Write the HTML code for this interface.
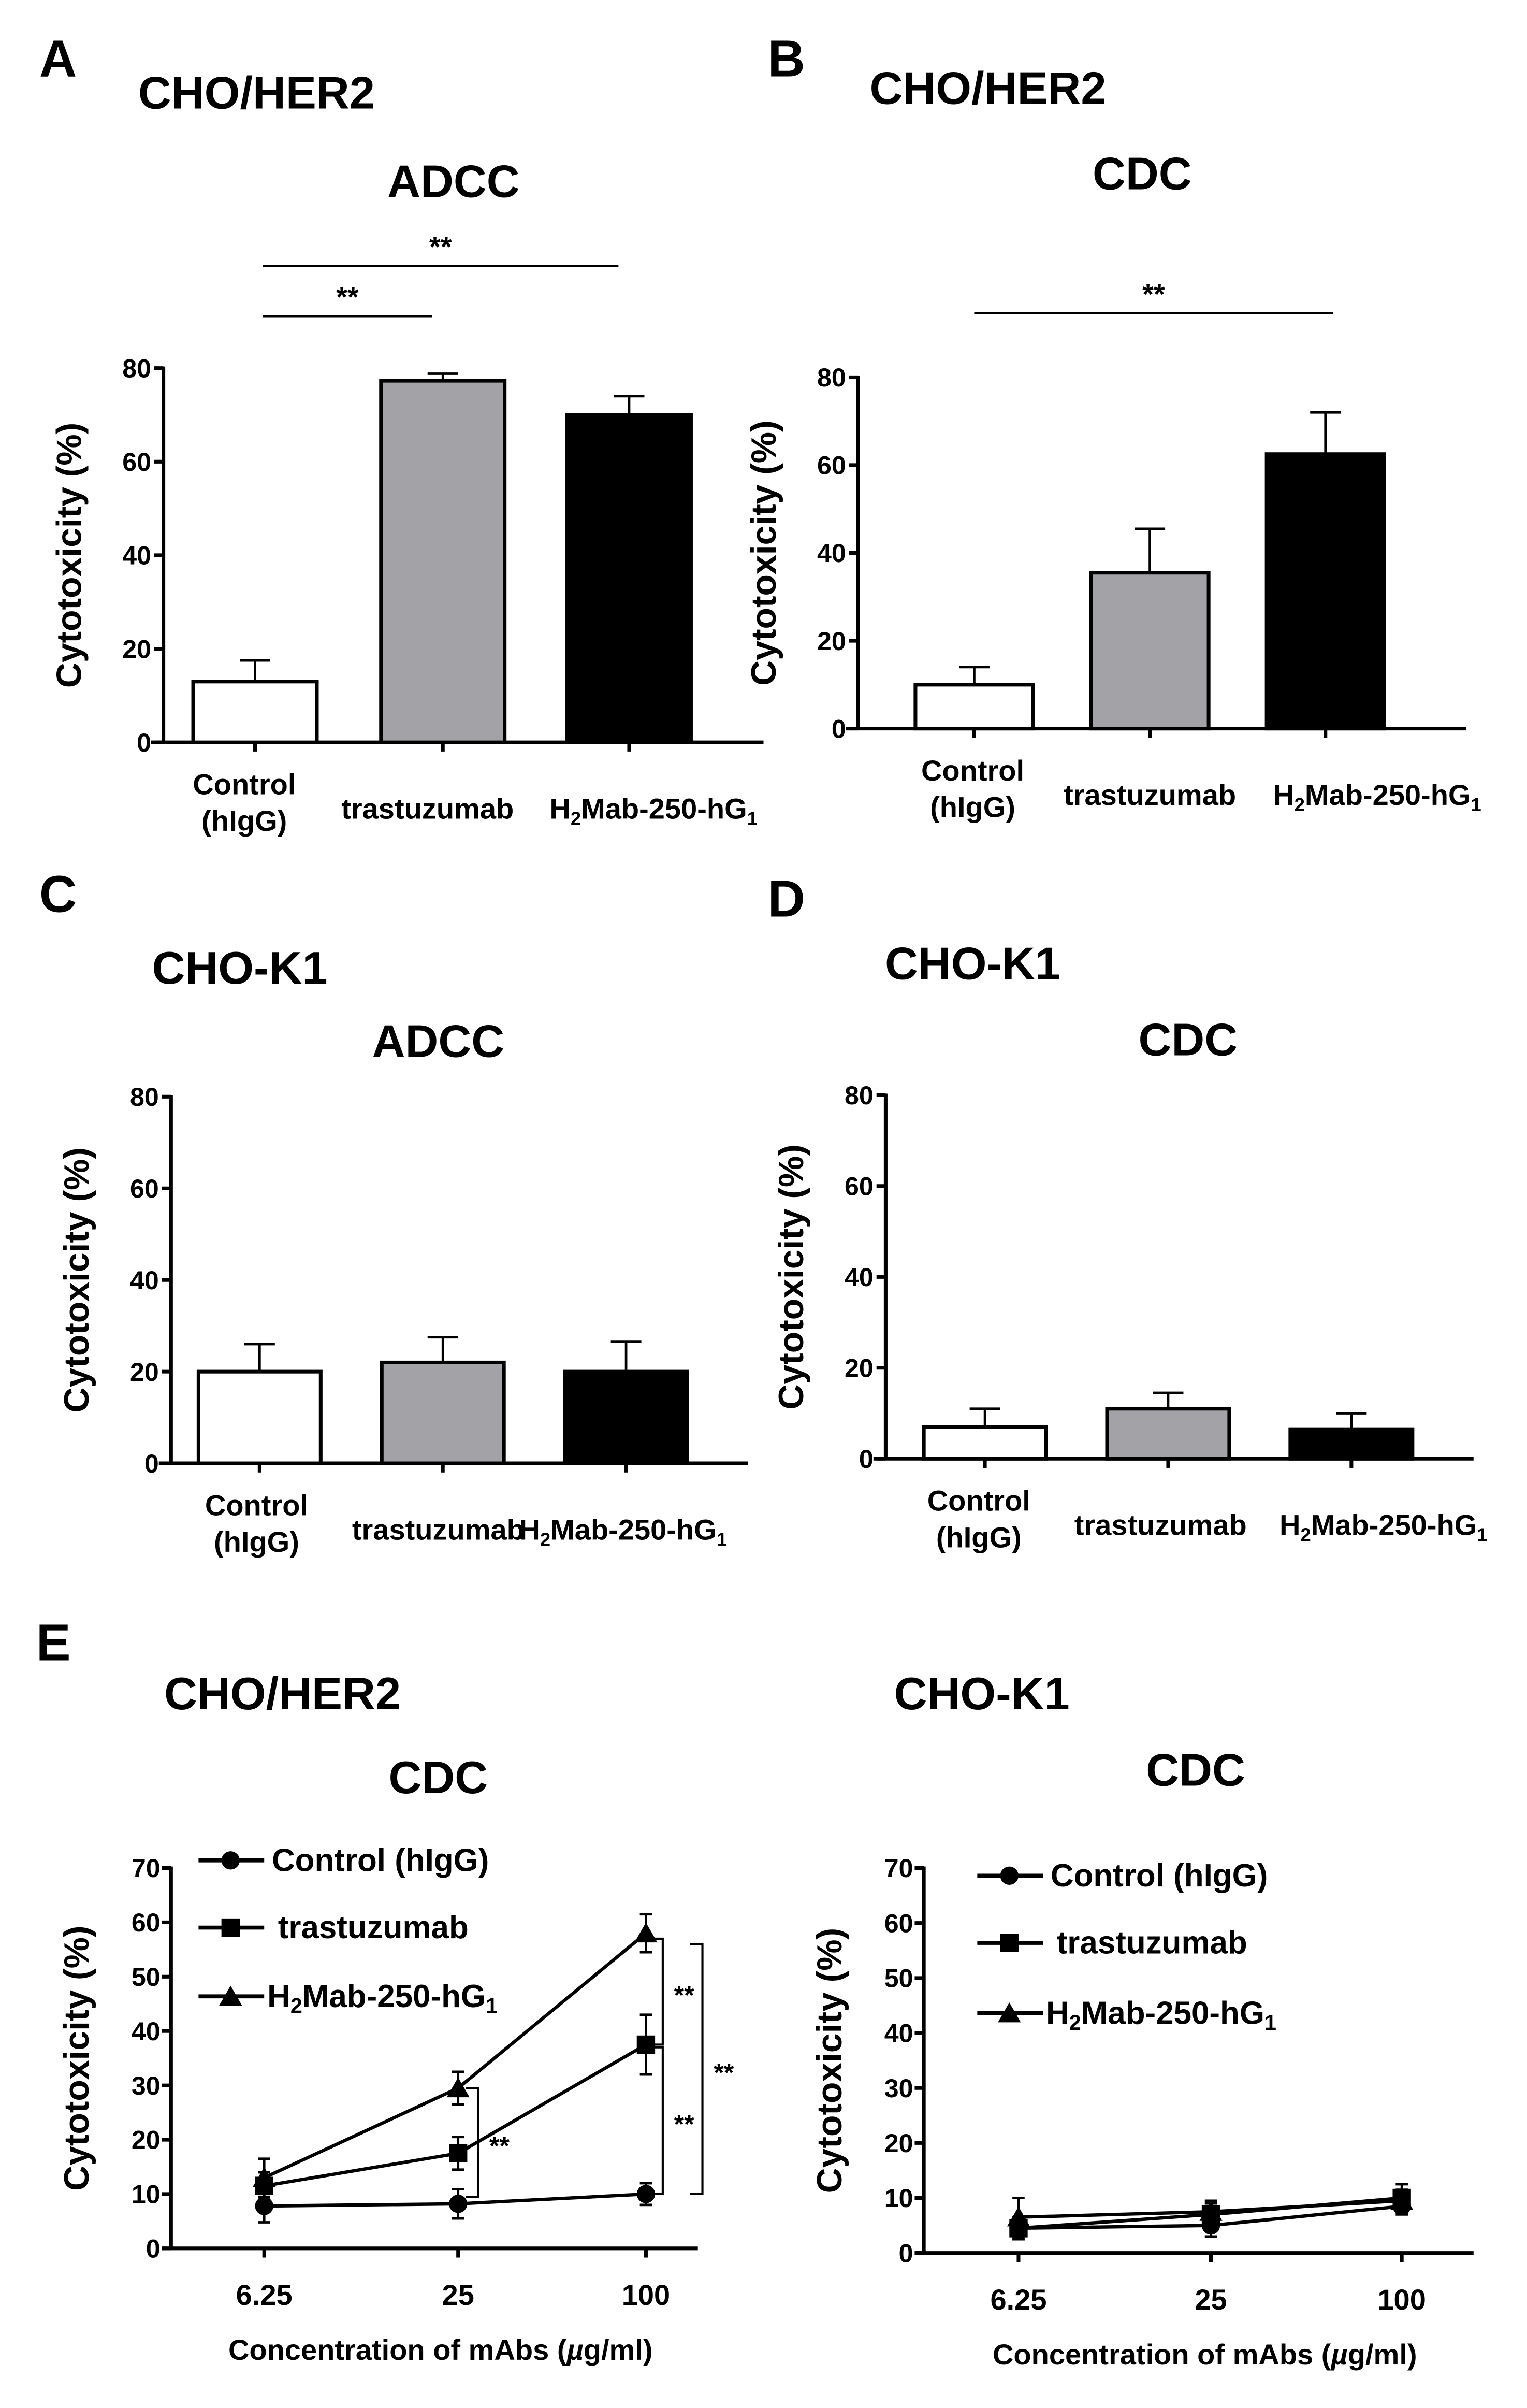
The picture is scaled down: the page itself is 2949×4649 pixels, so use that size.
<!DOCTYPE html>
<html><head><meta charset="utf-8"><style>
html,body{margin:0;padding:0;background:#fff}
svg{display:block}
text{font-family:"Liberation Sans",sans-serif;font-weight:bold;fill:#000}
</style></head><body>
<svg id="fig" width="2949" height="4649" viewBox="0 0 1000 1576.5" xmlns="http://www.w3.org/2000/svg"></svg>
<script>
// ---- data ----
const barCategories = ["Control", "trastuzumab", "H2Mab-250-hG1"];
const barFills = ["#fff", "#a3a2a7", "#000"];
const aValues = [13, 77.3, 70];
const aErrors = [4.5, 1.5, 4];
const bValues = [10, 35.5, 62.5];
const bErrors = [4, 10, 9.5];
const cValues = [20, 22, 20];
const cErrors = [6, 5.5, 6.5];
const dValues = [7, 11, 6.5];
const dErrors = [4, 3.5, 3.5];
const barTicks = [0, 20, 40, 60, 80];
const concLabels = ["6.25", "25", "100"];
const lineTicks = [0, 10, 20, 30, 40, 50, 60, 70];
const eCtrl = [7.8, 8.2, 10];
const eCtrlErr = [3, 2.7, 2];
const eTras = [11.5, 17.5, 37.5];
const eTrasErr = [2.5, 3, 5.5];
const eH2 = [13, 29.5, 58];
const eH2Err = [3.5, 3, 3.5];
const fCtrl = [4.5, 5, 8.5];
const fCtrlErr = [2, 2, 1.5];
const fTras = [4.5, 7, 10];
const fTrasErr = [2, 2, 2.5];
const fH2 = [6.5, 7.5, 9.5];
const fH2Err = [3.5, 2, 2];

const svg = document.getElementById('fig');
const NS = 'http://www.w3.org/2000/svg';
function el(tag, attrs, parent) {
  const e = document.createElementNS(NS, tag);
  for (const k in attrs) e.setAttribute(k, attrs[k]);
  (parent || svg).appendChild(e);
  return e;
}
function txt(x, y, s, size, anchor, name, parent) {
  const t = el('text', {x: x, y: y, 'font-size': size, 'text-anchor': anchor || 'middle'}, parent);
  t.textContent = s;
  
  
  return t;
}
function h2label(x, y, size, name, parent) {
  const t = el('text', {x: x, y: y, 'font-size': size, 'text-anchor': 'middle'}, parent);
  
  
  t.innerHTML = 'H<tspan font-size="' + size * 0.65 + '" dy="4">2</tspan><tspan dy="-4">Mab-250-hG</tspan><tspan font-size="' + size * 0.65 + '" dy="4">1</tspan>';
  return t;
}
const LW = 2.4;
const TICK = 17, CAT = 19, YT = 23;

function barPanel(cfg) {
  const g = el('g', {});
  
  
  const ymax = 80;
  const ys = v => cfg.y0 - (cfg.y0 - cfg.yTop) * v / ymax;
  const ax = el('line', {x1: cfg.x0, y1: cfg.yTop - 1, x2: cfg.x0, y2: cfg.y0, stroke: '#000', 'stroke-width': LW}, g);
   
  const xa = el('line', {x1: cfg.x0 - 8, y1: cfg.y0, x2: cfg.xEnd, y2: cfg.y0, stroke: '#000', 'stroke-width': LW}, g);
   
  barTicks.forEach(v => {
    el('line', {x1: cfg.x0 - 6, y1: ys(v), x2: cfg.x0, y2: ys(v), stroke: '#000', 'stroke-width': LW}, g);
    txt(cfg.x0 - 8, ys(v) + 6, String(v), TICK, 'end', 'y-tick-label', g);
  });
  const yl = txt(0, 0, 'Cytotoxicity (%)', YT, 'middle', 'y-axis-title', g);
  yl.setAttribute('transform', 'translate(' + (cfg.x0 - 54) + ',' + ((cfg.y0 + cfg.yTop) / 2) + ') rotate(-90)');
  cfg.values.forEach((v, i) => {
    const cx = cfg.centers[i], w = cfg.bw;
    const r = el('rect', {x: cx - w / 2, y: ys(v), width: w, height: cfg.y0 - ys(v), fill: barFills[i], stroke: '#000', 'stroke-width': LW}, g);
    
    
    const e = cfg.errors[i];
    el('line', {x1: cx, y1: ys(v), x2: cx, y2: ys(v + e), stroke: '#000', 'stroke-width': 1.6}, g);
    el('line', {x1: cx - 10, y1: ys(v + e), x2: cx + 10, y2: ys(v + e), stroke: '#000', 'stroke-width': 1.6}, g);
    el('line', {x1: cx, y1: cfg.y0, x2: cx, y2: cfg.y0 + 6, stroke: '#000', 'stroke-width': LW}, g);
  });
  const lx = cfg.labelX;
  txt(lx[0], cfg.y0 + 34, 'Control', CAT, 'middle', 'x-label-control', g);
  txt(lx[0], cfg.y0 + 58, '(hIgG)', CAT, 'middle', 'x-label-control', g);
  txt(lx[1], cfg.y0 + 50, 'trastuzumab', CAT, 'middle', 'x-label-trastuzumab', g);
  h2label(lx[2], cfg.y0 + 50, CAT, 'x-label-h2mab', g);
  (cfg.sig || []).forEach(s => {
    el('line', {x1: s[0], y1: s[2], x2: s[1], y2: s[2], stroke: '#000', 'stroke-width': 1.4}, g);
    txt((s[0] + s[1]) / 2, s[2] - 6, '**', 19, 'middle', 'significance-mark', g);
  });
  return g;
}

// headers
txt(38, 50, 'A', 34, 'middle', 'panel-label-a');
txt(168, 71, 'CHO/HER2', 30, 'middle', 'cell-line-title');
txt(297, 129, 'ADCC', 30, 'middle', 'assay-title');
txt(515, 50, 'B', 34, 'middle', 'panel-label-b');
txt(647, 68, 'CHO/HER2', 30, 'middle', 'cell-line-title');
txt(748, 124, 'CDC', 30, 'middle', 'assay-title');
txt(38, 597, 'C', 34, 'middle', 'panel-label-c');
txt(157, 644, 'CHO-K1', 30, 'middle', 'cell-line-title');
txt(287, 692, 'ADCC', 30, 'middle', 'assay-title');
txt(515, 600, 'D', 34, 'middle', 'panel-label-d');
txt(637, 641, 'CHO-K1', 30, 'middle', 'cell-line-title');
txt(778, 691, 'CDC', 30, 'middle', 'assay-title');
txt(35, 1087, 'E', 34, 'middle', 'panel-label-e');
txt(185, 1119, 'CHO/HER2', 30, 'middle', 'cell-line-title');
txt(287, 1174, 'CDC', 30, 'middle', 'assay-title');
txt(643, 1119, 'CHO-K1', 30, 'middle', 'cell-line-title');
txt(783, 1169, 'CDC', 30, 'middle', 'assay-title');

barPanel({name: 'panel-a-chart', x0: 107, xEnd: 500, yTop: 241, y0: 486, bw: 81, centers: [167, 290, 412], labelX: [160, 280, 428], values: aValues, errors: aErrors,
  sig: [[172, 405, 174], [172, 283, 207]]});
barPanel({name: 'panel-b-chart', x0: 562, xEnd: 960, yTop: 247, y0: 477, bw: 77, centers: [638, 753, 868], labelX: [637, 753, 902], values: bValues, errors: bErrors,
  sig: [[638, 873, 205]]});
barPanel({name: 'panel-c-chart', x0: 112, xEnd: 490, yTop: 718, y0: 958, bw: 80, centers: [170, 290, 410], labelX: [168, 287, 408], values: cValues, errors: cErrors});
barPanel({name: 'panel-d-chart', x0: 580, xEnd: 965, yTop: 717, y0: 955, bw: 80, centers: [645, 765, 885], labelX: [641, 760, 906], values: dValues, errors: dErrors});

function marker(type, x, y, g, name) {
  let m;
  if (type === 'circle') m = el('circle', {cx: x, cy: y, r: 6, fill: '#000'}, g);
  else if (type === 'square') m = el('rect', {x: x - 6, y: y - 6, width: 12, height: 12, fill: '#000'}, g);
  else m = el('polygon', {points: (x) + ',' + (y - 7) + ' ' + (x - 7.5) + ',' + (y + 6) + ' ' + (x + 7.5) + ',' + (y + 6), fill: '#000'}, g);
  
  
}

function linePanel(cfg) {
  const g = el('g', {});
  
  
  const ys = v => cfg.y0 - (cfg.y0 - cfg.yTop) * v / 70;
  const xs = i => cfg.xt[i];
  const ya = el('line', {x1: cfg.x0, y1: cfg.yTop - 1, x2: cfg.x0, y2: cfg.y0, stroke: '#000', 'stroke-width': LW}, g);
   
  const xa = el('line', {x1: cfg.x0 - 6, y1: cfg.y0, x2: cfg.xEnd, y2: cfg.y0, stroke: '#000', 'stroke-width': LW}, g);
   
  lineTicks.forEach(v => {
    el('line', {x1: cfg.x0 - 6, y1: ys(v), x2: cfg.x0, y2: ys(v), stroke: '#000', 'stroke-width': LW}, g);
    txt(cfg.x0 - 7, ys(v) + 6, String(v), TICK, 'end', 'y-tick-label', g);
  });
  concLabels.forEach((c, i) => {
    el('line', {x1: xs(i), y1: cfg.y0, x2: xs(i), y2: cfg.y0 + 6, stroke: '#000', 'stroke-width': LW}, g);
    txt(xs(i), cfg.y0 + 37, c, 19, 'middle', 'x-tick-label', g);
  });
  const xl = el('text', {x: (cfg.x0 + cfg.xEnd) / 2 + 4, y: cfg.y0 + 73, 'font-size': 19, 'text-anchor': 'middle'}, g);
   
  xl.innerHTML = 'Concentration of mAbs (<tspan font-style="italic">µ</tspan>g/ml)';
  const yl = txt(0, 0, 'Cytotoxicity (%)', YT, 'middle', 'y-axis-title', g);
  yl.setAttribute('transform', 'translate(' + (cfg.x0 - 54) + ',' + ((cfg.y0 + cfg.yTop) / 2) + ') rotate(-90)');
  const series = [[cfg.ctrl, cfg.ctrlErr, 'circle', 'control'], [cfg.tras, cfg.trasErr, 'square', 'trastuzumab'], [cfg.h2, cfg.h2Err, 'triangle', 'h2mab']];
  series.forEach(s => {
    const pts = s[0].map((v, i) => xs(i) + ',' + ys(v)).join(' ');
    const pl = el('polyline', {points: pts, fill: 'none', stroke: '#000', 'stroke-width': 2.2}, g);
    
    
    s[0].forEach((v, i) => {
      const e = s[1][i];
      el('line', {x1: xs(i), y1: ys(v - e), x2: xs(i), y2: ys(v + e), stroke: '#000', 'stroke-width': 1.6}, g);
      el('line', {x1: xs(i) - 4, y1: ys(v - e), x2: xs(i) + 4, y2: ys(v - e), stroke: '#000', 'stroke-width': 1.6}, g);
      el('line', {x1: xs(i) - 4, y1: ys(v + e), x2: xs(i) + 4, y2: ys(v + e), stroke: '#000', 'stroke-width': 1.6}, g);
      marker(s[2], xs(i), ys(v), g, 'point-' + s[3]);
    });
  });
  const lg = el('g', {}, g);
  
  
  const lt = ['circle', 'square', 'triangle'];
  lt.forEach((t, i) => {
    const y = cfg.legY[i];
    el('line', {x1: cfg.legX, y1: y, x2: cfg.legX + 43, y2: y, stroke: '#000', 'stroke-width': 2.6}, lg);
    marker(t, cfg.legX + 21, y, lg, 'legend-marker');
  });
  txt(cfg.legX + 48, cfg.legY[0] + 7, 'Control (hIgG)', 21, 'start', 'legend-entry-control', lg);
  txt(cfg.legX + 52, cfg.legY[1] + 7, 'trastuzumab', 21, 'start', 'legend-entry-trastuzumab', lg);
  const h = el('text', {x: cfg.legX + 45, y: cfg.legY[2] + 7, 'font-size': 21, 'text-anchor': 'start'}, lg);
  
  
  h.innerHTML = 'H<tspan font-size="14" dy="4">2</tspan><tspan dy="-4">Mab-250-hG</tspan><tspan font-size="14" dy="4">1</tspan>';
  (cfg.brackets || []).forEach(b => {
    const x = b[0], y1 = ys(b[1]), y2 = ys(b[2]);
    el('polyline', {points: (x - 8) + ',' + y1 + ' ' + x + ',' + y1 + ' ' + x + ',' + y2 + ' ' + (x - 8) + ',' + y2, fill: 'none', stroke: '#000', 'stroke-width': 1.4}, g);
    txt(x + 14, (y1 + y2) / 2 + 8, '**', 17, 'middle', 'significance-mark', g);
  });
}

linePanel({name: 'panel-e-chart-cho-her2', x0: 112, xEnd: 457, yTop: 1223, y0: 1472, xt: [173, 300, 423],
  ctrl: eCtrl, ctrlErr: eCtrlErr, tras: eTras, trasErr: eTrasErr, h2: eH2, h2Err: eH2Err,
  legX: 130, legY: [1218, 1262, 1307],
  brackets: [[313, 29.5, 9.5], [434, 57, 37.5], [434, 37, 10], [460, 56, 10]]});
linePanel({name: 'panel-e-chart-cho-k1', x0: 605, xEnd: 965, yTop: 1223, y0: 1475, xt: [667, 793, 918],
  ctrl: fCtrl, ctrlErr: fCtrlErr, tras: fTras, trasErr: fTrasErr, h2: fH2, h2Err: fH2Err,
  legX: 640, legY: [1228, 1272, 1318]});
</script>
</body></html>
